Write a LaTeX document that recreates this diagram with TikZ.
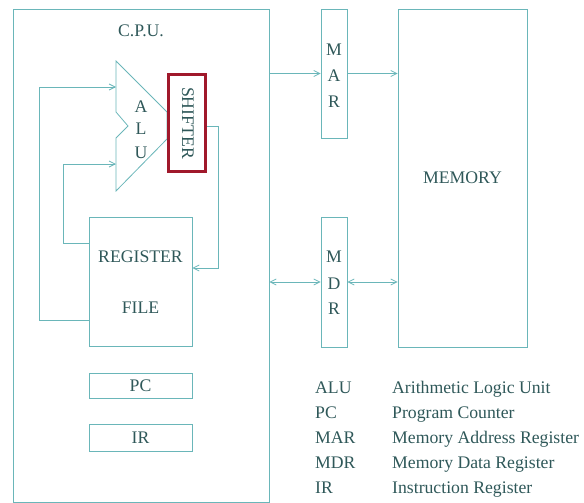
\documentclass[tikz,border=0pt]{standalone}
\usepackage{fontspec}
\setmainfont{Liberation Serif}
\usetikzlibrary{arrows.meta}
\definecolor{ln}{HTML}{6AB6B9}
\definecolor{tx}{HTML}{2F5859}
\definecolor{shred}{HTML}{A0182B}
\begin{document}
\begin{tikzpicture}[x=1pt,y=-1pt,
  every node/.style={text=tx,font=\fontsize{17.7}{21}\selectfont},
  box/.style={draw=ln,line width=0.8pt,inner sep=0pt,minimum width=#1},
  box/.default=10pt,
  conn/.style={draw=ln,line width=0.8pt},
  arr/.style={conn,-{Straight Barb[length=6pt,width=6pt]}},
  darr/.style={conn,{Straight Barb[length=6pt,width=6pt]}-{Straight Barb[length=6pt,width=6pt]}},
  legk/.style={anchor=base west,inner sep=0pt},
]
\useasboundingbox (0,0) rectangle (584,503);
% boxes
\node[box=256pt,minimum height=493pt] (cpu) at (141,255.5) {};
\node[inner sep=0pt] (cpulabel) at (141,31) {C.P.U.};
\node[box=26pt,minimum height=129pt] (mar) at (334,73.5) {};
\node[box=129pt,minimum height=338pt] (mem) at (462.5,178) {MEMORY};
\node[box=26pt,minimum height=130pt] (mdr) at (334,282) {};
\node[box=103pt,minimum height=129pt] (rf) at (140.5,281.5) {};
\node[box=103pt,minimum height=25pt] (pc) at (140.5,385.5) {PC};
\node[box=103pt,minimum height=27pt] (ir) at (140.5,437.5) {IR};
% letters
\node[inner sep=0pt] (marM) at (334,50) {M};
\node[inner sep=0pt] (marA) at (334,76) {A};
\node[inner sep=0pt] (marR) at (334,102) {R};
\node[inner sep=0pt] (mdrM) at (334,257) {M};
\node[inner sep=0pt] (mdrD) at (334,284) {D};
\node[inner sep=0pt] (mdrR) at (334,309) {R};
\node[inner sep=0pt] (rfA) at (140.5,257) {REGISTER};
\node[inner sep=0pt] (rfB) at (140.5,308) {FILE};
% ALU
\coordinate (a1) at (116,61);
\coordinate (a2) at (167,112);
\coordinate (a3) at (167,139);
\coordinate (a4) at (116,191);
\coordinate (a5) at (116,138);
\coordinate (a6) at (128,126);
\coordinate (a7) at (116,112);
\draw[conn] (a1) -- (a2) -- (a3) -- (a4) -- (a5) -- (a6) -- (a7) -- cycle;
\node[inner sep=0pt] (aluA) at (141,107) {A};
\node[inner sep=0pt] (aluL) at (141,129) {L};
\node[inner sep=0pt] (aluU) at (141,153) {U};
\coordinate (inA) at (116,87);
\coordinate (inB) at (116,164);
% shifter
\node[draw=shred,line width=3pt,inner sep=0pt,minimum width=37pt,minimum height=97pt] (sh) at (187,123) {};
\node[rotate=-90,inner sep=0pt] (shtext) at (188,123) {SHIFTER};
% connectors
\draw[arr] (mar.west -| cpu.east) -- (mar.west);
\draw[arr] (mar.east) -- (mar.east -| mem.west);
\draw[darr] (mdr.west -| cpu.east) -- (mdr.west);
\draw[darr] (mdr.east) -- (mdr.east -| mem.west);
\draw[arr] ([yshift=-38.5pt]rf.west) -| ([xshift=-77pt]inA) -- (inA);
\draw[arr] ([yshift=38.5pt]rf.west) -| ([xshift=-53pt]inB) -- (inB);
\draw[arr] ([yshift=-3pt]sh.east) -| ([xshift=26pt,yshift=13.5pt]rf.east) -- ([yshift=13.5pt]rf.east);
% legend
\node[legk] (k1) at (315,393) {ALU};
\node[legk] (d1) at (392,393) {Arithmetic Logic Unit};
\node[legk] (k2) at (315,418) {PC};
\node[legk] (d2) at (392,418) {Program Counter};
\node[legk] (k3) at (315,443) {MAR};
\node[legk] (d3) at (392,443) {Memory Address Register};
\node[legk] (k4) at (315,468) {MDR};
\node[legk] (d4) at (392,468) {Memory Data Register};
\node[legk] (k5) at (315,493) {IR};
\node[legk] (d5) at (392,493) {Instruction Register};
\end{tikzpicture}
\end{document}
